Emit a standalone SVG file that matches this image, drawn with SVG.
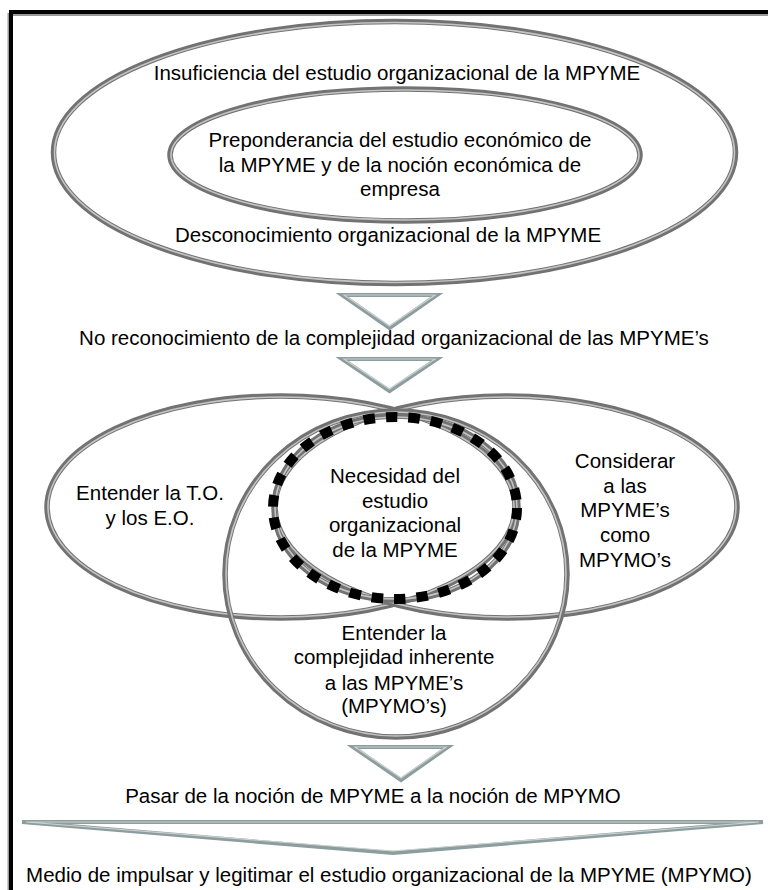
<svg xmlns="http://www.w3.org/2000/svg" width="768" height="890" viewBox="0 0 768 890">
<style>
.t{font-family:"Liberation Sans",Arial,sans-serif;font-size:20.5px;fill:#000;text-anchor:middle}
.ring{fill:none;stroke:#727272;stroke-width:5.5}
.ringHi{fill:none;stroke:#c4c4c4;stroke-width:1.6}
.tri{fill:#fff;stroke:#8d9c9c;stroke-width:4;stroke-linejoin:miter}
.triHi{fill:none;stroke:#c9d2d2;stroke-width:1.2;stroke-linejoin:miter}
.dots{fill:none;stroke:#000;stroke-width:10;stroke-dasharray:11.5 11}
</style>
<rect width="768" height="890" fill="#fff"/>
<g id="frame">
<path d="M9,892 V14.5 H770" fill="none" stroke="#9a9a9a" stroke-width="3"/>
<path d="M11,892 V12 H770" fill="none" stroke="#000" stroke-width="4"/>
</g>
<g id="outer-ring">
<ellipse class="ring" cx="394.5" cy="152.5" rx="341" ry="131"/>
<ellipse class="ringHi" cx="394.5" cy="152.5" rx="340" ry="130"/>
<text class="t" x="397" y="80">Insuficiencia del estudio organizacional de la MPYME</text>
<text class="t" x="388" y="242">Desconocimiento organizacional de la MPYME</text>
</g>
<g id="inner-ring">
<ellipse class="ring" cx="405" cy="155" rx="235" ry="66"/>
<ellipse class="ringHi" cx="405" cy="155" rx="234" ry="65"/>
<text class="t" x="400" y="147">Preponderancia del estudio económico de</text>
<text class="t" x="400" y="172">la MPYME y de la noción económica de</text>
<text class="t" x="400" y="196">empresa</text>
</g>
<g id="no-reconocimiento">
<text class="t" x="394" y="345">No reconocimiento de la complejidad organizacional de las MPYME’s</text>
</g>
<g id="venn-left">
<ellipse class="ring" cx="281" cy="507" rx="234" ry="111"/>
<ellipse class="ringHi" cx="281" cy="507" rx="233" ry="110"/>
<text class="t" x="150" y="500">Entender la T.O.</text>
<text class="t" x="150" y="525">y los E.O.</text>
</g>
<g id="venn-right">
<ellipse class="ring" cx="506" cy="507" rx="231" ry="111"/>
<ellipse class="ringHi" cx="506" cy="507" rx="230" ry="110"/>
<text class="t" x="625" y="468">Considerar</text>
<text class="t" x="625" y="493">a las</text>
<text class="t" x="625" y="517">MPYME’s</text>
<text class="t" x="625" y="542">como</text>
<text class="t" x="625" y="567">MPYMO’s</text>
</g>
<g id="venn-bottom">
<ellipse class="ring" cx="396" cy="574" rx="171" ry="163"/>
<ellipse class="ringHi" cx="396" cy="574" rx="170" ry="162"/>
<text class="t" x="394" y="640">Entender la</text>
<text class="t" x="394" y="664">complejidad inherente</text>
<text class="t" x="394" y="690">a las MPYME’s</text>
<text class="t" x="394" y="713">(MPYMO’s)</text>
</g>
<g id="venn-center">
<ellipse class="ring" cx="396" cy="508" rx="122" ry="92"/>
<ellipse class="ringHi" cx="396" cy="508" rx="121" ry="91"/>
<ellipse class="dots" cx="395" cy="508" rx="122" ry="91"/>
<text class="t" x="395" y="483">Necesidad del</text>
<text class="t" x="395" y="508">estudio</text>
<text class="t" x="395" y="532">organizacional</text>
<text class="t" x="395" y="557">de la MPYME</text>
</g>
<g id="pasar">
<text class="t" x="373" y="803">Pasar de la noción de MPYME a la noción de MPYMO</text>
</g>
<g id="medio">
<text class="t" x="389" y="882">Medio de impulsar y legitimar el estudio organizacional de la MPYME (MPYMO)</text>
</g>
<g id="connectors">
<polygon class="tri" points="342,295 437,295 389.5,328"/>
<polygon class="triHi" points="344,295 435,295 389.5,326"/>
<polygon class="tri" points="342,359 437,359 389.5,391"/>
<polygon class="triHi" points="344,359 435,359 389.5,389"/>
<polygon class="tri" points="353,747 448,747 401,780"/>
<polygon class="triHi" points="355,747 446,747 401,778"/>
<polygon class="tri" points="22,822 763,822 393,853"/>
<polygon class="triHi" points="26,822 759,822 393,851"/>
</g>
</svg>
